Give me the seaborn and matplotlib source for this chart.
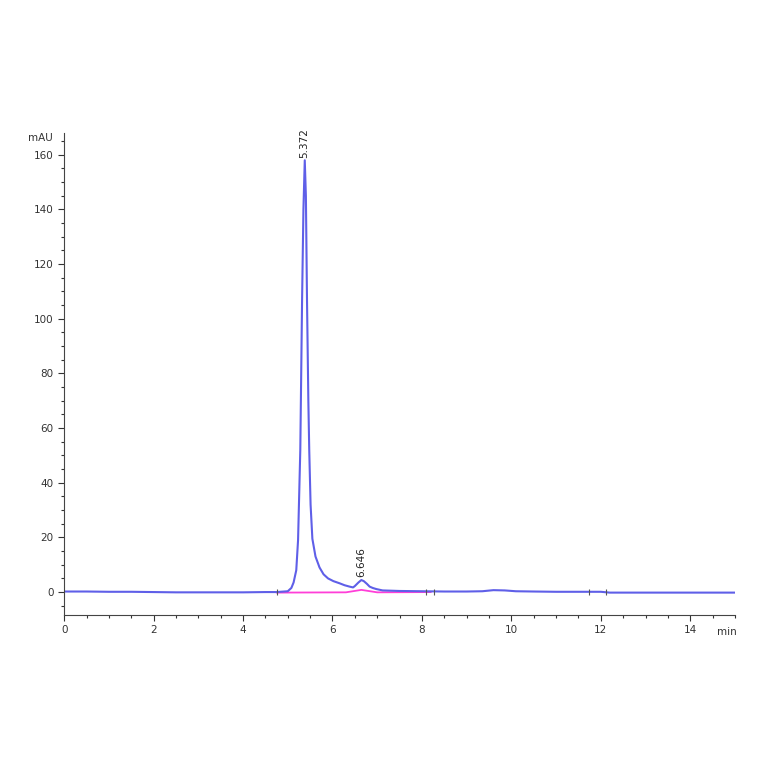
import matplotlib
matplotlib.use("Agg")
import matplotlib.pyplot as plt
import seaborn as sns
import pandas as pd
from matplotlib.ticker import MultipleLocator

# chromatogram trace (min, mAU)
trace_time = [0.0, 0.5, 1.0, 1.5, 2.0, 2.5, 3.0, 3.5, 4.0, 4.5, 4.75, 5.0, 5.08,
              5.13, 5.19, 5.23, 5.28, 5.32, 5.35, 5.38, 5.405, 5.43, 5.46, 5.48,
              5.51, 5.55, 5.62, 5.71, 5.80, 5.90, 6.02, 6.16, 6.27, 6.38, 6.46,
              6.50, 6.58, 6.645, 6.70, 6.77, 6.83, 6.90, 6.98, 7.12, 7.5,
              8.0, 8.5, 9.0, 9.35, 9.6, 9.85, 10.1, 10.5, 11.0, 11.5, 12.0, 12.2,
              12.5, 13.0, 14.0, 15.0]
trace_mau = [0.2, 0.2, 0.1, 0.1, 0.0, -0.1, -0.1, -0.1, -0.1, 0.0, 0.0, 0.3, 1.5,
             3.5, 8, 19, 52, 107, 140, 158, 145, 107, 70, 52,
             32, 19.5, 13, 9, 6.5, 5, 4, 3.2, 2.5, 2, 1.7,
             2.2, 3.5, 4.4, 4.0, 3.0, 2.0, 1.5, 1.1, 0.6, 0.4,
             0.3, 0.2, 0.2, 0.3, 0.7, 0.6, 0.3, 0.2, 0.1, 0.1, 0.1, -0.2,
             -0.2, -0.2, -0.2, -0.2]

# integration baseline (pink)
base_time = [4.75, 6.3, 6.646, 7.0, 8.2]
base_mau = [-0.2, -0.1, 0.8, -0.1, 0.0]

# peak labels
peak_rt = [5.372, 6.646]
peak_top = [158, 4.4]
peak_lbl = ["5.372", "6.646"]

# integration tick marks
mark_time = [4.75, 8.1, 8.28, 11.74, 12.12]

sns.set_style("ticks")
plt.rcParams['font.family'] = ['DejaVu Sans']

df = pd.DataFrame({'t': trace_time, 'mau': trace_mau})
df_b = pd.DataFrame({'t': base_time, 'mau': base_mau})

fig = plt.figure(figsize=(7.64, 7.64), dpi=100)
ax = fig.add_axes([0.084, 0.195, 0.878, 0.631])

sns.lineplot(data=df_b, x='t', y='mau', color='#ff3fd8', lw=1.3, ax=ax)
sns.lineplot(data=df, x='t', y='mau', color='#5f5fe8', lw=1.5, ax=ax)
ax.plot(mark_time, [0.2] * len(mark_time), ls='none', marker='|', ms=4,
        color='#555555', mew=0.8)

for rt, top, lb in zip(peak_rt, peak_top, peak_lbl):
    ax.text(rt, top + 1, lb, rotation=90, ha='center', va='bottom',
            fontsize=7.5, color='#222222')

ax.set_xlim(0, 15)
ax.set_ylim(-8.4, 168)
ax.xaxis.set_major_locator(MultipleLocator(2))
ax.xaxis.set_minor_locator(MultipleLocator(0.5))
ax.yaxis.set_major_locator(MultipleLocator(20))
ax.yaxis.set_minor_locator(MultipleLocator(5))
ax.tick_params(which='major', length=4, width=0.8, labelsize=7.5, colors='#333333')
ax.tick_params(which='minor', length=2, width=0.8, colors='#333333')
ax.set_xlabel('')
ax.set_ylabel('')
sns.despine(ax=ax)
for s in ['left', 'bottom']:
    ax.spines[s].set_color('#444444')
    ax.spines[s].set_linewidth(0.8)

fig.text(40 / 764, 1 - 138 / 764, 'mAU', fontsize=7.5, ha='center', va='center',
         color='#333333')
fig.text(727 / 764, 1 - 632 / 764, 'min', fontsize=7.5, ha='center', va='center',
         color='#333333')

fig.savefig('out.png', dpi=100)
